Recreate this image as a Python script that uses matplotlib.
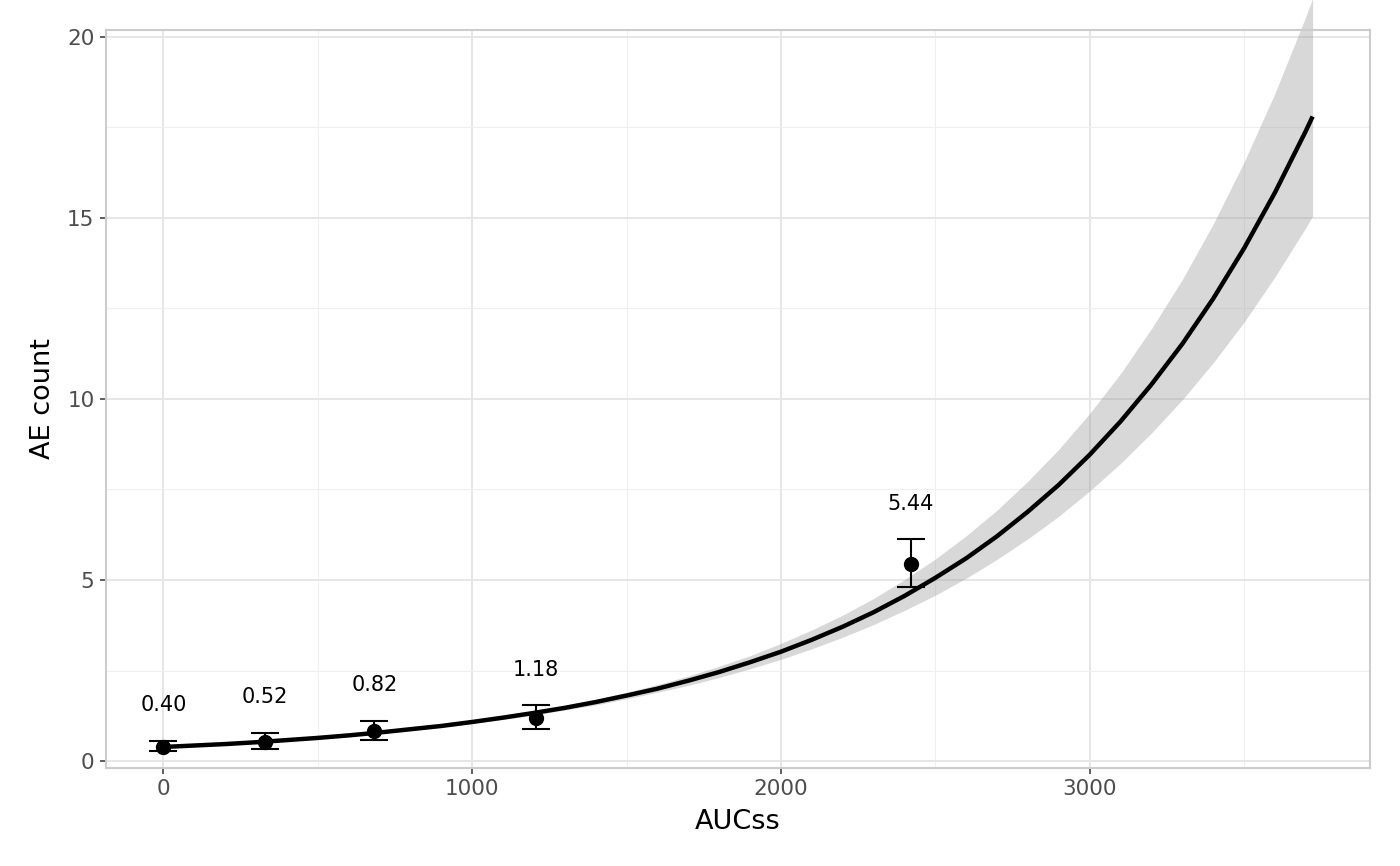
import matplotlib
matplotlib.use("Agg")
import matplotlib.pyplot as plt
from matplotlib.ticker import MultipleLocator

# Binned observations: mean AE count with 95% CI
bin_auc = [0, 330, 683, 1207, 2421]
bin_mean = [0.40, 0.52, 0.82, 1.18, 5.44]
bin_lower = [0.28, 0.34, 0.58, 0.89, 4.81]
bin_upper = [0.56, 0.78, 1.12, 1.54, 6.12]

# Model prediction curve with confidence band
pred_auc = [0, 100, 200, 300, 400, 500, 600, 700, 800, 900,
            1000, 1100, 1200, 1300, 1400, 1500, 1600, 1700, 1800, 1900,
            2000, 2100, 2200, 2300, 2400, 2500, 2600, 2700, 2800, 2900,
            3000, 3100, 3200, 3300, 3400, 3500, 3600, 3700, 3722]
pred_fit = [0.39, 0.43, 0.47, 0.52, 0.58, 0.64, 0.71, 0.79, 0.88, 0.97,
            1.08, 1.20, 1.33, 1.47, 1.63, 1.81, 2.00, 2.22, 2.46, 2.73,
            3.02, 3.35, 3.71, 4.11, 4.56, 5.06, 5.60, 6.21, 6.89, 7.63,
            8.46, 9.38, 10.40, 11.52, 12.77, 14.16, 15.70, 17.40, 17.80]
pred_lower = [0.36, 0.40, 0.44, 0.49, 0.55, 0.61, 0.68, 0.76, 0.84, 0.94,
              1.04, 1.15, 1.27, 1.41, 1.55, 1.72, 1.90, 2.09, 2.31, 2.55,
              2.81, 3.10, 3.42, 3.77, 4.16, 4.58, 5.05, 5.57, 6.14, 6.76,
              7.46, 8.22, 9.06, 9.98, 11.00, 12.12, 13.37, 14.73, 15.05]
pred_upper = [0.41, 0.46, 0.50, 0.56, 0.61, 0.68, 0.75, 0.83, 0.92, 1.01,
              1.12, 1.24, 1.38, 1.54, 1.71, 1.90, 2.11, 2.35, 2.62, 2.91,
              3.25, 3.62, 4.03, 4.49, 5.01, 5.58, 6.22, 6.93, 7.73, 8.61,
              9.60, 10.70, 11.94, 13.30, 14.83, 16.54, 18.44, 20.56, 21.06]

fig = plt.figure(figsize=(14, 8.66), dpi=100)
ax = fig.add_axes([0.0757, 0.1132, 0.9029, 0.8522])

# ribbon is drawn unclipped, like the original
ax.fill_between(pred_auc, pred_lower, pred_upper, color="#999999",
                alpha=0.38, linewidth=0, clip_on=False, zorder=2)
ax.plot(pred_auc, pred_fit, color="black", linewidth=3.2,
        solid_capstyle="butt", zorder=3)

yerr = [[m - lo for m, lo in zip(bin_mean, bin_lower)],
        [hi - m for m, hi in zip(bin_mean, bin_upper)]]
ax.errorbar(bin_auc, bin_mean, yerr=yerr, fmt="o", color="black",
            markersize=10, elinewidth=1.5, capsize=10, capthick=1.5, zorder=4)

for x, hi, m in zip(bin_auc, bin_upper, bin_mean):
    ax.text(x, hi + 0.98, f"{m:.2f}", ha="center", va="center",
            fontsize=15, color="black", zorder=5)

ax.set_xlim(-186, 3908)
ax.set_ylim(-0.19, 20.19)
ax.xaxis.set_major_locator(MultipleLocator(1000))
ax.xaxis.set_minor_locator(MultipleLocator(500))
ax.yaxis.set_major_locator(MultipleLocator(5))
ax.yaxis.set_minor_locator(MultipleLocator(2.5))

ax.grid(which="major", color="#E6E6E6", linewidth=1.4, zorder=0)
ax.grid(which="minor", color="#EFEFEF", linewidth=0.8, zorder=0)
ax.set_axisbelow(True)

for sp in ax.spines.values():
    sp.set_color("#CCCCCC")
    sp.set_linewidth(1.5)

ax.tick_params(which="major", length=4.3, width=1.1, color="#333333",
               labelsize=15.5, labelcolor="#4D4D4D", pad=4)
ax.tick_params(which="minor", length=0)

ax.set_xlabel("AUCss", fontsize=19.5, labelpad=7)
ax.set_ylabel("AE count", fontsize=19.5, labelpad=8)

fig.savefig("out.png", dpi=100)
